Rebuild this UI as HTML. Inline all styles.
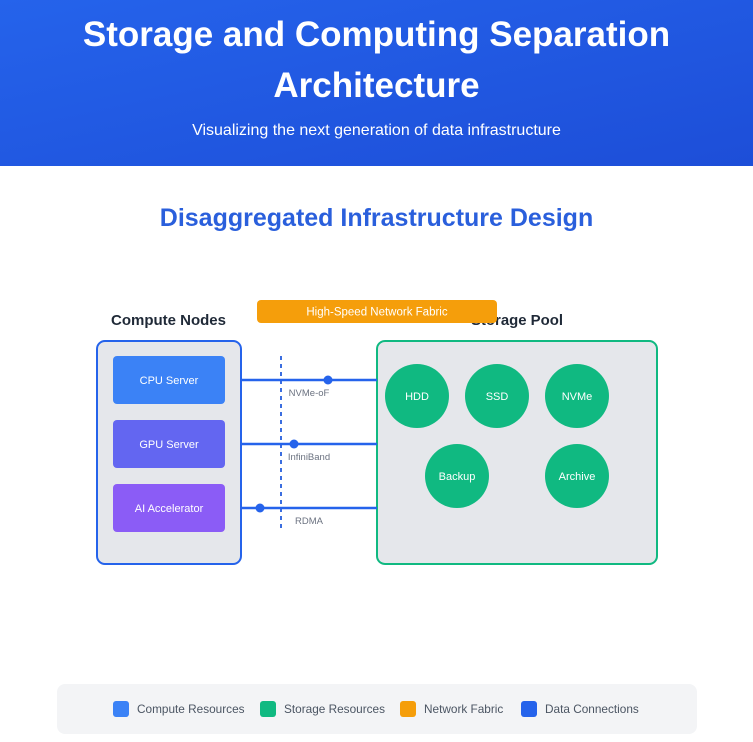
<!DOCTYPE html>
<html><head><meta charset="utf-8"><style>
html,body{margin:0;padding:0;background:#fff;width:753px;height:742px;overflow:hidden}
svg{display:block}
</style></head><body>
<svg width="753" height="742" viewBox="0 0 753 742" xmlns="http://www.w3.org/2000/svg" font-family="'Liberation Sans', sans-serif">
<defs>
<linearGradient id="hg" x1="0" y1="0" x2="1" y2="1">
<stop offset="0" stop-color="#2563eb"/>
<stop offset="1" stop-color="#1d4ed8"/>
</linearGradient>
</defs>
<rect x="0" y="0" width="753" height="166" fill="url(#hg)"/>
<text x="376.5" y="46" text-anchor="middle" font-size="35" font-weight="bold" fill="#fff">Storage and Computing Separation</text>
<text x="376.5" y="97" text-anchor="middle" font-size="35" font-weight="bold" fill="#fff">Architecture</text>
<text x="376.5" y="135" text-anchor="middle" font-size="16" fill="#fff">Visualizing the next generation of data infrastructure</text>

<text x="376.5" y="226" text-anchor="middle" font-size="25" font-weight="bold" fill="#2a5fdc">Disaggregated Infrastructure Design</text>

<!-- labels -->
<text x="168.5" y="325" text-anchor="middle" font-size="15" font-weight="bold" fill="#1f2937">Compute Nodes</text>
<text x="471" y="325" font-size="15" font-weight="bold" fill="#1f2937" textLength="92" lengthAdjust="spacingAndGlyphs">Storage Pool</text>

<!-- compute box -->
<rect x="97" y="341" width="144" height="223" rx="8" fill="#e5e7eb" stroke="#2563eb" stroke-width="2"/>
<rect x="113" y="356" width="112" height="48" rx="4" fill="#3b82f6"/>
<text x="169" y="384" text-anchor="middle" font-size="11" fill="#fff">CPU Server</text>
<rect x="113" y="420" width="112" height="48" rx="4" fill="#6366f1"/>
<text x="169" y="448" text-anchor="middle" font-size="11" fill="#fff">GPU Server</text>
<rect x="113" y="484" width="112" height="48" rx="4" fill="#8b5cf6"/>
<text x="169" y="512" text-anchor="middle" font-size="11" fill="#fff">AI Accelerator</text>

<!-- storage box -->
<rect x="377" y="341" width="280" height="223" rx="8" fill="#e5e7eb" stroke="#10b981" stroke-width="2"/>
<circle cx="417" cy="396" r="32" fill="#10b981"/>
<text x="417" y="400" text-anchor="middle" font-size="11" fill="#fff">HDD</text>
<circle cx="497" cy="396" r="32" fill="#10b981"/>
<text x="497" y="400" text-anchor="middle" font-size="11" fill="#fff">SSD</text>
<circle cx="577" cy="396" r="32" fill="#10b981"/>
<text x="577" y="400" text-anchor="middle" font-size="11" fill="#fff">NVMe</text>
<circle cx="457" cy="476" r="32" fill="#10b981"/>
<text x="457" y="480" text-anchor="middle" font-size="11" fill="#fff">Backup</text>
<circle cx="577" cy="476" r="32" fill="#10b981"/>
<text x="577" y="480" text-anchor="middle" font-size="11" fill="#fff">Archive</text>

<!-- dashed fabric line -->
<line x1="281" y1="356" x2="281" y2="528" stroke="#3b6ee0" stroke-width="2" stroke-dasharray="4 4"/>

<!-- connections -->
<line x1="241" y1="380" x2="377" y2="380" stroke="#2563eb" stroke-width="2.5"/>
<circle cx="328" cy="380" r="4.5" fill="#2563eb"/>
<line x1="241" y1="444" x2="377" y2="444" stroke="#2563eb" stroke-width="2.5"/>
<circle cx="294" cy="444" r="4.5" fill="#2563eb"/>
<line x1="241" y1="508" x2="377" y2="508" stroke="#2563eb" stroke-width="2.5"/>
<circle cx="260" cy="508" r="4.5" fill="#2563eb"/>
<text x="309" y="396" text-anchor="middle" font-size="9.5" fill="#6b7280">NVMe-oF</text>
<text x="309" y="460" text-anchor="middle" font-size="9.5" fill="#6b7280">InfiniBand</text>
<text x="309" y="524" text-anchor="middle" font-size="9.5" fill="#6b7280">RDMA</text>

<!-- network fabric bar -->
<rect x="257" y="300" width="240" height="23" rx="4" fill="#f59e0b"/>
<text x="377" y="315.5" text-anchor="middle" font-size="11.5" fill="#fff">High-Speed Network Fabric</text>

<!-- legend -->
<rect x="57" y="684" width="640" height="50" rx="8" fill="#f3f4f6"/>
<rect x="113" y="701" width="16" height="16" rx="3" fill="#3b82f6"/>
<text x="137" y="713" font-size="11.8" fill="#4b5563">Compute Resources</text>
<rect x="260" y="701" width="16" height="16" rx="3" fill="#10b981"/>
<text x="284" y="713" font-size="11.8" fill="#4b5563">Storage Resources</text>
<rect x="400" y="701" width="16" height="16" rx="3" fill="#f59e0b"/>
<text x="424" y="713" font-size="11.8" fill="#4b5563">Network Fabric</text>
<rect x="521" y="701" width="16" height="16" rx="3" fill="#2563eb"/>
<text x="545" y="713" font-size="11.8" fill="#4b5563">Data Connections</text>
</svg>
</body></html>
